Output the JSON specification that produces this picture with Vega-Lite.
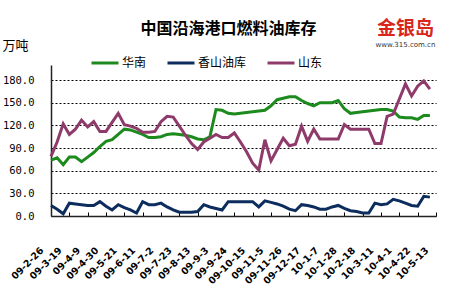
{
  "$schema": "https://vega.github.io/schema/vega-lite/v6.json",
  "width": 385,
  "height": 151,
  "autosize": "none",
  "padding": {"left": 51, "top": 65, "right": 14, "bottom": 84},
  "background": "white",
  "title": {"text": "中国沿海港口燃料油库存", "font": "Noto Sans CJK SC", "fontSize": 16, "fontWeight": "bold", "color": "#000000", "anchor": "middle", "dx": -15, "offset": 0, "dy": 17},
  "config": {"view": {"stroke": null}},
  "datasets": {
    "weekly": [
      {"week": "09-2-26", "华南": 74, "香山油库": 14, "山东": 79},
      {"week": "09-3-5", "华南": 77, "香山油库": 9, "山东": 98},
      {"week": "09-3-12", "华南": 68, "香山油库": 3, "山东": 122},
      {"week": "09-3-19", "华南": 78, "香山油库": 17, "山东": 108},
      {"week": "09-3-26", "华南": 78, "香山油库": 16, "山东": 115},
      {"week": "09-4-2", "华南": 72, "香山油库": 15, "山东": 127},
      {"week": "09-4-9", "华南": 78, "香山油库": 14, "山东": 118},
      {"week": "09-4-16", "华南": 84, "香山油库": 14, "山东": 125},
      {"week": "09-4-23", "华南": 92, "香山油库": 19, "山东": 112},
      {"week": "09-4-30", "华南": 99, "香山油库": 13, "山东": 112},
      {"week": "09-5-7", "华南": 101, "香山油库": 8, "山东": 124},
      {"week": "09-5-14", "华南": 108, "香山油库": 15, "山东": 136},
      {"week": "09-5-21", "华南": 115, "香山油库": 11, "山东": 121},
      {"week": "09-5-28", "华南": 114, "香山油库": 8, "山东": 119},
      {"week": "09-6-4", "华南": 111, "香山油库": 4, "山东": 116},
      {"week": "09-6-11", "华南": 108, "香山油库": 19, "山东": 111},
      {"week": "09-6-18", "华南": 104, "香山油库": 15, "山东": 111},
      {"week": "09-6-25", "华南": 104, "香山油库": 15, "山东": 112},
      {"week": "09-7-2", "华南": 105, "香山油库": 17, "山东": 125},
      {"week": "09-7-9", "华南": 108, "香山油库": 12, "山东": 132},
      {"week": "09-7-16", "华南": 109, "香山油库": 8, "山东": 131},
      {"week": "09-7-23", "华南": 108, "香山油库": 5, "山东": 119},
      {"week": "09-7-30", "华南": 107, "香山油库": 5, "山东": 107},
      {"week": "09-8-6", "华南": 105, "香山油库": 5, "山东": 96},
      {"week": "09-8-13", "华南": 102, "香山油库": 6, "山东": 88},
      {"week": "09-8-20", "华南": 101, "香山油库": 15, "山东": 98},
      {"week": "09-8-27", "华南": 105, "香山油库": 12, "山东": 103},
      {"week": "09-9-3", "华南": 141, "香山油库": 10, "山东": 108},
      {"week": "09-9-10", "华南": 140, "香山油库": 8, "山东": 104},
      {"week": "09-9-17", "华南": 136, "香山油库": 19, "山东": 104},
      {"week": "09-9-24", "华南": 135, "香山油库": 19, "山东": 110},
      {"week": "09-10-1", "华南": 136, "香山油库": 19, "山东": 98},
      {"week": "09-10-8", "华南": 137, "香山油库": 19, "山东": 85},
      {"week": "09-10-15", "华南": 138, "香山油库": 19, "山东": 70},
      {"week": "09-10-22", "华南": 139, "香山油库": 12, "山东": 61},
      {"week": "09-10-29", "华南": 140, "香山油库": 20, "山东": 101},
      {"week": "09-11-5", "华南": 146, "香山油库": 18, "山东": 73},
      {"week": "09-11-12", "华南": 154, "香山油库": 16, "山东": 88},
      {"week": "09-11-19", "华南": 156, "香山油库": 13, "山东": 103},
      {"week": "09-11-26", "华南": 158, "香山油库": 9, "山东": 93},
      {"week": "09-12-3", "华南": 158, "香山油库": 7, "山东": 95},
      {"week": "09-12-10", "华南": 153, "香山油库": 15, "山东": 119},
      {"week": "09-12-17", "华南": 149, "香山油库": 14, "山东": 99},
      {"week": "09-12-24", "华南": 146, "香山油库": 12, "山东": 115},
      {"week": "09-12-31", "华南": 150, "香山油库": 9, "山东": 102},
      {"week": "10-1-7", "华南": 150, "香山油库": 9, "山东": 102},
      {"week": "10-1-14", "华南": 150, "香山油库": 12, "山东": 102},
      {"week": "10-1-21", "华南": 153, "香山油库": 14, "山东": 102},
      {"week": "10-1-28", "华南": 142, "香山油库": 10, "山东": 121},
      {"week": "10-2-4", "华南": 136, "香山油库": 7, "山东": 115},
      {"week": "10-2-11", "华南": 137, "香山油库": 6, "山东": 115},
      {"week": "10-2-18", "华南": 138, "香山油库": 4, "山东": 115},
      {"week": "10-2-25", "华南": 139, "香山油库": 4, "山东": 115},
      {"week": "10-3-4", "华南": 140, "香山油库": 17, "山东": 96},
      {"week": "10-3-11", "华南": 141, "香山油库": 15, "山东": 96},
      {"week": "10-3-18", "华南": 141, "香山油库": 16, "山东": 132},
      {"week": "10-3-25", "华南": 139, "香山油库": 22, "山东": 135},
      {"week": "10-4-1", "华南": 131, "香山油库": 20, "山东": 155},
      {"week": "10-4-8", "华南": 130, "香山油库": 17, "山东": 175},
      {"week": "10-4-15", "华南": 130, "香山油库": 14, "山东": 159},
      {"week": "10-4-22", "华南": 128, "香山油库": 13, "山东": 172},
      {"week": "10-4-29", "华南": 133, "香山油库": 26, "山东": 179},
      {"week": "10-5-6", "华南": 133, "香山油库": 25, "山东": 168}
    ],
    "logo": [
      {"name": "金银岛", "url": "www.315.com.cn"}
    ]
  },
  "layer": [
    {
      "data": {"name": "weekly"},
      "transform": [{"fold": ["华南", "香山油库", "山东"], "as": ["series", "value"]}],
      "mark": {"type": "line", "strokeWidth": 3, "clip": false},
      "encoding": {
        "x": {
          "field": "week", "type": "ordinal", "sort": null,
          "scale": {"type": "point", "padding": 0, "domain": ["09-2-26","09-3-5","09-3-12","09-3-19","09-3-26","09-4-2","09-4-9","09-4-16","09-4-23","09-4-30","09-5-7","09-5-14","09-5-21","09-5-28","09-6-4","09-6-11","09-6-18","09-6-25","09-7-2","09-7-9","09-7-16","09-7-23","09-7-30","09-8-6","09-8-13","09-8-20","09-8-27","09-9-3","09-9-10","09-9-17","09-9-24","09-10-1","09-10-8","09-10-15","09-10-22","09-10-29","09-11-5","09-11-12","09-11-19","09-11-26","09-12-3","09-12-10","09-12-17","09-12-24","09-12-31","10-1-7","10-1-14","10-1-21","10-1-28","10-2-4","10-2-11","10-2-18","10-2-25","10-3-4","10-3-11","10-3-18","10-3-25","10-4-1","10-4-8","10-4-15","10-4-22","10-4-29","10-5-6","10-5-13"]},
          "axis": {
            "title": null,
            "values": ["09-2-26","09-3-19","09-4-9","09-4-30","09-5-21","09-6-11","09-7-2","09-7-23","09-8-13","09-9-3","09-9-24","09-10-15","09-11-5","09-11-26","09-12-17","10-1-7","10-1-28","10-2-18","10-3-11","10-4-1","10-4-22","10-5-13"],
            "labelAngle": -45, "labelAlign": "right", "labelBaseline": "top",
            "labelPadding": 33, "labelOffset": -13, "labelOverlap": false,
            "labelFont": "DejaVu Sans", "labelFontSize": 9.5, "labelFontWeight": "bold", "labelColor": "#000000",
            "tickSize": -4, "tickColor": "#000000", "tickWidth": 1,
            "domainColor": "#222222", "domainWidth": 1.5, "grid": false
          }
        },
        "y": {
          "field": "value", "type": "quantitative",
          "scale": {"domain": [0, 200], "nice": false, "zero": true},
          "axis": {
            "values": [0, 30, 60, 90, 120, 150, 180], "tickCount": 20, "format": ".1f", "labelOverlap": false,
            "grid": true, "gridDash": [2, 2], "gridColor": "#000000", "gridOpacity": 1, "gridWidth": 1,
            "ticks": false, "labelPadding": 17,
            "labelFont": "DejaVu Sans Mono", "labelFontSize": 10.5, "labelColor": "#000000",
            "domainColor": "#222222", "domainWidth": 1.5,
            "title": "万吨", "titleAngle": 0, "titleX": -49, "titleY": -20,
            "titleAlign": "left", "titleBaseline": "middle",
            "titleFont": "Noto Sans CJK SC", "titleFontSize": 13, "titleFontWeight": "normal", "titleColor": "#000000"
          }
        },
        "color": {
          "field": "series", "type": "nominal",
          "scale": {"domain": ["华南", "香山油库", "山东"], "range": ["#1C8A1C", "#0C2D5E", "#8E3B6B"]},
          "legend": {
            "orient": "none", "legendX": 39, "legendY": -17, "direction": "horizontal",
            "title": null, "symbolType": "stroke", "symbolSize": 729, "symbolStrokeWidth": 3,
            "labelFont": "Noto Sans CJK SC", "labelFontSize": 12, "labelColor": "#000000",
            "labelOffset": 2, "columnPadding": 14, "padding": 0
          }
        }
      }
    },
    {
      "data": {"name": "logo"},
      "mark": {"type": "text", "font": "Noto Sans CJK SC", "fontSize": 19, "fontWeight": "bold", "color": "#D9261C", "align": "center", "baseline": "middle"},
      "encoding": {
        "x": {"datum": "10-4-8"},
        "y": {"datum": 248},
        "text": {"field": "name"}
      }
    },
    {
      "data": {"name": "logo"},
      "mark": {"type": "text", "font": "DejaVu Sans", "fontSize": 7, "color": "#333333", "align": "center", "baseline": "middle"},
      "encoding": {
        "x": {"datum": "10-4-8"},
        "y": {"datum": 226},
        "text": {"field": "url"}
      }
    }
  ]
}
